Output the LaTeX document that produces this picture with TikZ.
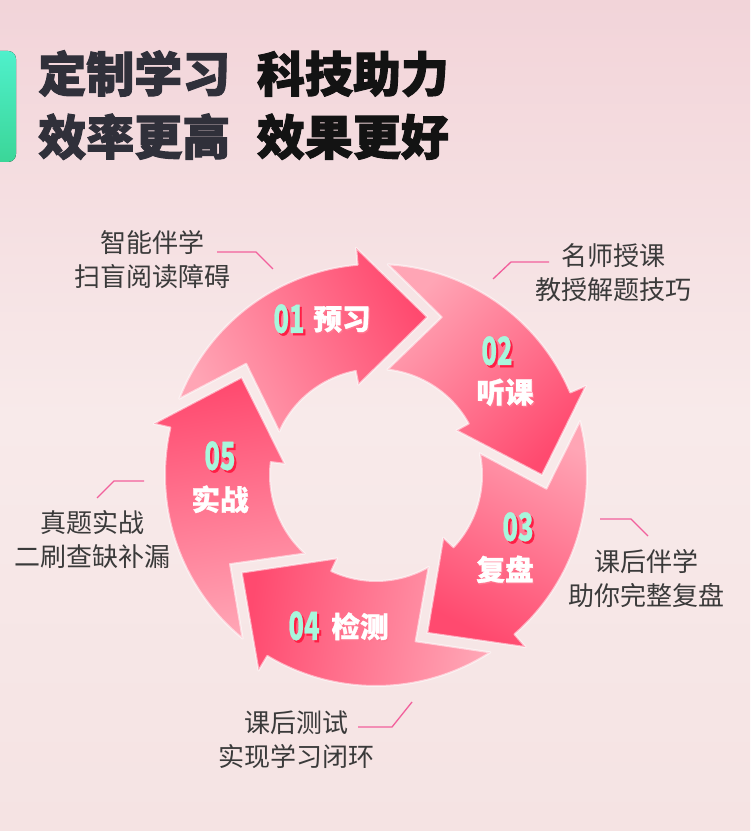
\documentclass[tikz,border=0pt]{standalone}
\usepackage{fontspec}
\usepackage{graphicx}
\newfontfamily\cjk{Noto Sans CJK SC}
\newfontfamily\cjkheavy{Noto Sans CJK SC}[BoldFeatures={FakeBold=2}]
\newfontfamily\cjkmid{Noto Sans CJK SC}[BoldFeatures={FakeBold=1}]
\definecolor{bgtop}{HTML}{F2D4D9}
\definecolor{bgmid}{HTML}{F8EAEA}
\definecolor{bgbot}{HTML}{F5E3E3}
\definecolor{arrD}{HTML}{FF4A6F}
\definecolor{arrL}{HTML}{FFA5B5}
\definecolor{mint}{HTML}{A8F6DC}
\definecolor{numred}{HTML}{FF1E45}
\definecolor{shpink}{HTML}{FF7891}
\definecolor{lead}{HTML}{F2609C}
\definecolor{txt}{HTML}{3A3A3A}
\definecolor{barT}{HTML}{4FF0CB}
\definecolor{barB}{HTML}{3BD698}
\definecolor{tA}{HTML}{30303A}
\definecolor{tB}{HTML}{131313}
% text with an offset shadow, in one box: {shadow colour}{text colour}{dx}{dy}{text}
\newcommand{\shadowed}[5]{\leavevmode\rlap{\hspace{#3}\raisebox{-#4}{\textcolor{#1}{#5}}}\textcolor{#2}{#5}}
\newcommand{\stepnum}[1]{\shadowed{numred}{mint}{1.6pt}{1.8pt}{\scalebox{0.66}[1]{#1}}}
\newcommand{\stepname}[1]{\shadowed{shpink}{white}{0.8pt}{1pt}{#1}}
\begin{document}
\begin{tikzpicture}[x=0.75pt,y=0.75pt,
  sidelabel/.style={font=\cjk\fontsize{19.5}{25.5}\selectfont, text=txt, align=center, inner sep=0},
  leader/.style={draw=lead, line width=1pt},
  numtxt/.style={font=\cjkmid\bfseries\fontsize{29}{30}\selectfont, inner sep=0},
  steptxt/.style={font=\cjkmid\bfseries\fontsize{21.5}{24}\selectfont, inner sep=0},
  titletxt/.style={font=\cjkheavy\bfseries\fontsize{36}{40}\selectfont, inner sep=0, anchor=base west},
  arrowbody/.style={draw=white, draw opacity=0.55, line width=1.5pt, line join=round}
]
\useasboundingbox (0,0) rectangle (750,831);
\fill[top color=bgtop, bottom color=bgbot, middle color=bgmid] (0,0) rectangle (750,831);
% green accent bar
\fill[top color=barT, bottom color=barB, rounded corners=6] (-10,669) rectangle (16,780);
% title
\node[titletxt] (title1) at (38,739) {\textcolor{tA}{定制学习}\hspace{20pt}\textcolor{tB}{科技助力}};
\node[titletxt] (title2) at (38,676) {\textcolor{tA}{效率更高}\hspace{20pt}\textcolor{tB}{效果更好}};
% cycle arrows
\begin{scope}[shift={(376,356)}]
\foreach \T in {72,0,-72,-144,-216}{
  \pgfmathsetmacro\aA{\T+86.8}
  \pgfmathsetmacro\aB{\T+23}
  \pgfmathsetmacro\aC{\T+29}
  \pgfmathsetmacro\aD{\T+83.8}
  \pgfmathsetmacro\aE{\T+67.4}
  \pgfmathsetmacro\sa{\T-135}
  \path[arrowbody, top color=arrD, bottom color=arrL, shading angle=\sa]
    (\aA:211) arc[start angle=\aA, end angle=\aB, radius=211]
    -- (\aB:228) -- (\T:166) -- (\aC:92) -- (\aC:106)
    arc[start angle=\aC, end angle=\aD, radius=106]
    -- (\aE:171) -- cycle;
}
\end{scope}
% step numbers and names
\node[numtxt] (n1) at (289,511) {\stepnum{01}};
\node[steptxt] (w1) at (342,511) {\stepname{预习}};
\node[numtxt] (n2) at (497,479) {\stepnum{02}};
\node[steptxt] (w2) at (505,438) {\stepname{听课}};
\node[numtxt] (n3) at (518,303) {\stepnum{03}};
\node[steptxt] (w3) at (505,261) {\stepname{复盘}};
\node[numtxt] (n4) at (304,204) {\stepnum{04}};
\node[steptxt] (w4) at (360,204) {\stepname{检测}};
\node[numtxt] (n5) at (220,374) {\stepnum{05}};
\node[steptxt] (w5) at (220,331) {\stepname{实战}};
% side labels
\node[sidelabel] (s1) at (152,571.5) {智能伴学\\扫盲阅读障碍};
\node[sidelabel] (s2) at (613,558.5) {名师授课\\教授解题技巧};
\node[sidelabel] (s3) at (646,252) {课后伴学\\助你完整复盘};
\node[sidelabel] (s4) at (92,291) {真题实战\\二刷查缺补漏};
\node[sidelabel] (s5) at (296,91) {课后测试\\实现学习闭环};
% leader lines
\coordinate (l1a) at (217,579); \coordinate (l1b) at (256,579); \coordinate (l1c) at (273,562);
\coordinate (l2a) at (549,569); \coordinate (l2b) at (511,569); \coordinate (l2c) at (493,552);
\coordinate (l3a) at (600,312); \coordinate (l3b) at (631,312); \coordinate (l3c) at (648,295);
\coordinate (l4a) at (144,350); \coordinate (l4b) at (114,350); \coordinate (l4c) at (97,333);
\coordinate (l5a) at (358,104); \coordinate (l5b) at (392,104); \coordinate (l5c) at (412,129);
\draw[leader] (l1a) -- (l1b) -- (l1c);
\draw[leader] (l2a) -- (l2b) -- (l2c);
\draw[leader] (l3a) -- (l3b) -- (l3c);
\draw[leader] (l4a) -- (l4b) -- (l4c);
\draw[leader] (l5a) -- (l5b) -- (l5c);
\end{tikzpicture}
\end{document}
